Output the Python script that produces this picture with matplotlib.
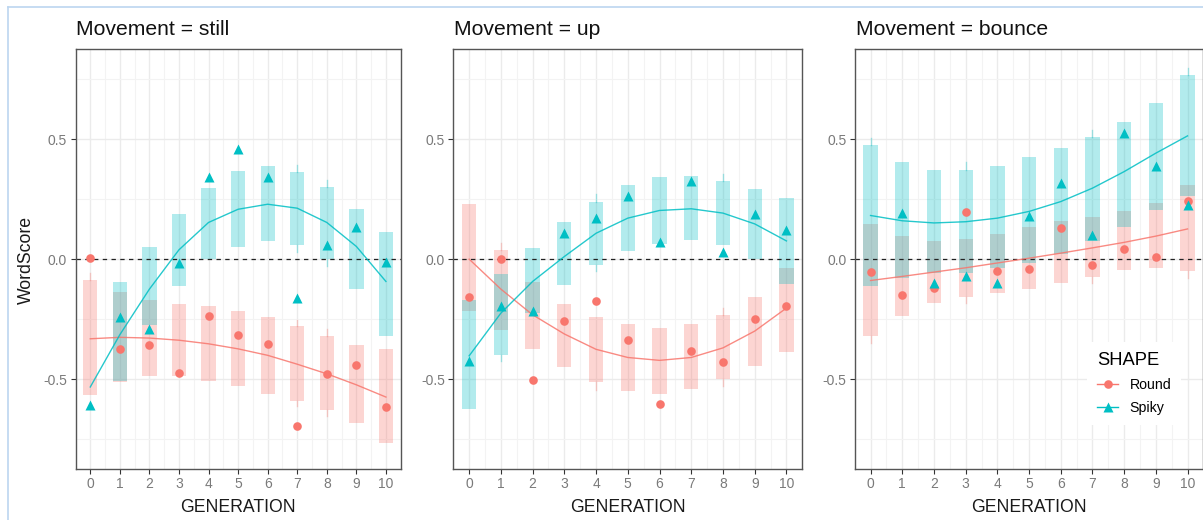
import numpy as np
import matplotlib
matplotlib.use("Agg")
import matplotlib.pyplot as plt
from matplotlib.lines import Line2D

nan = np.nan
generation = list(range(11))
panels = ["still", "up", "bounce"]
shapes = ["Round", "Spiky"]

# ---- Movement = still ----
still_round_pt = [0.006, -0.374, -0.357, -0.475, -0.239, -0.318, -0.353, -0.694, -0.479, -0.440, -0.617]
still_round_lo = [-0.568, -0.514, -0.489, -0.489, -0.506, -0.531, -0.561, -0.590, -0.628, -0.683, -0.767]
still_round_hi = [-0.089, -0.139, -0.169, -0.186, -0.194, -0.215, -0.242, -0.279, -0.322, -0.357, -0.375]
still_round_fit = [-0.332, -0.326, -0.329, -0.338, -0.353, -0.374, -0.401, -0.438, -0.478, -0.524, -0.575]
still_round_wlo = [nan, nan, nan, nan, nan, nan, nan, -0.614, -0.656, nan, nan]
still_round_whi = [-0.057, nan, nan, nan, nan, nan, nan, -0.253, -0.290, nan, nan]
still_spiky_pt = [-0.607, -0.240, -0.290, -0.014, 0.344, 0.461, 0.344, -0.160, 0.057, 0.133, -0.010]
still_spiky_lo = [nan, -0.507, -0.274, -0.111, 0.000, 0.049, 0.074, 0.057, 0.000, -0.125, -0.319]
still_spiky_hi = [nan, -0.097, 0.050, 0.188, 0.297, 0.369, 0.390, 0.364, 0.301, 0.211, 0.114]
still_spiky_fit = [-0.533, -0.315, -0.125, 0.039, 0.153, 0.208, 0.229, 0.2125, 0.153, 0.053, -0.093]
still_spiky_wlo = [nan, nan, nan, nan, nan, nan, nan, 0.028, -0.030, nan, nan]
still_spiky_whi = [nan, nan, nan, nan, nan, nan, nan, 0.393, 0.330, nan, nan]

# ---- Movement = up ----
up_round_pt = [-0.157, 0.000, -0.504, -0.256, -0.175, -0.339, -0.606, -0.381, -0.429, -0.250, -0.194]
up_round_lo = [-0.218, -0.294, -0.375, -0.450, -0.514, -0.551, -0.561, -0.543, -0.500, -0.447, -0.3875]
up_round_hi = [0.229, 0.039, -0.096, -0.186, -0.242, -0.272, -0.285, -0.272, -0.233, -0.157, -0.035]
up_round_fit = [0.000, -0.125, -0.232, -0.312, -0.376, -0.410, -0.422, -0.410, -0.370, -0.300, -0.204]
up_round_wlo = [nan, nan, nan, nan, -0.544, nan, nan, nan, -0.530, nan, nan]
up_round_whi = [nan, 0.067, nan, nan, nan, nan, nan, nan, -0.204, nan, nan]
up_spiky_pt = [-0.424, -0.194, -0.218, 0.111, 0.171, 0.264, 0.071, 0.326, 0.031, 0.189, 0.122]
up_spiky_lo = [-0.625, -0.401, -0.225, -0.107, -0.024, 0.032, 0.064, 0.078, 0.061, 0.000, -0.104]
up_spiky_hi = [-0.172, -0.0625, 0.046, 0.153, 0.240, 0.310, 0.344, 0.347, 0.326, 0.292, 0.253]
up_spiky_fit = [-0.403, -0.225, -0.093, 0.011, 0.108, 0.171, 0.203, 0.210, 0.192, 0.147, 0.076]
up_spiky_wlo = [nan, -0.426, nan, nan, -0.051, nan, nan, nan, nan, nan, nan]
up_spiky_whi = [nan, nan, nan, nan, 0.271, nan, nan, nan, 0.356, nan, nan]

# ---- Movement = bounce ----
bounce_round_pt = [-0.054, -0.149, -0.121, 0.197, -0.051, -0.040, 0.129, -0.024, 0.042, 0.007, 0.244]
bounce_round_lo = [-0.319, -0.239, -0.183, -0.156, -0.142, -0.125, -0.100, -0.075, -0.044, -0.0375, -0.051]
bounce_round_hi = [0.147, 0.097, 0.076, 0.083, 0.106, 0.132, 0.157, 0.174, 0.199, 0.236, 0.310]
bounce_round_fit = [-0.089, -0.072, -0.054, -0.036, -0.016, 0.004, 0.025, 0.047, 0.070, 0.096, 0.126]
bounce_round_wlo = [-0.350, nan, nan, -0.183, nan, nan, nan, -0.100, nan, nan, -0.079]
bounce_round_whi = [nan] * 11
bounce_spiky_pt = [nan, 0.194, -0.100, -0.072, -0.100, 0.182, 0.319, 0.099, 0.528, 0.389, 0.226]
bounce_spiky_lo = [-0.110, -0.079, -0.058, -0.056, -0.0375, -0.017, 0.022, 0.074, 0.136, 0.203, 0.264]
bounce_spiky_hi = [0.478, 0.406, 0.372, 0.372, 0.389, 0.424, 0.4625, 0.508, 0.572, 0.653, 0.767]
bounce_spiky_fit = [0.182, 0.160, 0.151, 0.156, 0.171, 0.199, 0.240, 0.296, 0.365, 0.442, 0.514]
bounce_spiky_wlo = [nan] * 11
bounce_spiky_whi = [0.507, nan, nan, 0.403, nan, nan, nan, 0.539, nan, nan, 0.796]

data = {
    "still": {
        "Round": (still_round_pt, still_round_lo, still_round_hi, still_round_fit, still_round_wlo, still_round_whi),
        "Spiky": (still_spiky_pt, still_spiky_lo, still_spiky_hi, still_spiky_fit, still_spiky_wlo, still_spiky_whi),
    },
    "up": {
        "Round": (up_round_pt, up_round_lo, up_round_hi, up_round_fit, up_round_wlo, up_round_whi),
        "Spiky": (up_spiky_pt, up_spiky_lo, up_spiky_hi, up_spiky_fit, up_spiky_wlo, up_spiky_whi),
    },
    "bounce": {
        "Round": (bounce_round_pt, bounce_round_lo, bounce_round_hi, bounce_round_fit, bounce_round_wlo, bounce_round_whi),
        "Spiky": (bounce_spiky_pt, bounce_spiky_lo, bounce_spiky_hi, bounce_spiky_fit, bounce_spiky_wlo, bounce_spiky_whi),
    },
}

colors = {"Round": "#F8766D", "Spiky": "#00BFC4"}
markers = {"Round": "o", "Spiky": "^"}
msizes = {"Round": 6.2, "Spiky": 7.6}

plt.rcParams['font.family'] = ['Liberation Sans', 'DejaVu Sans']

W, H = 1203, 520
fig = plt.figure(figsize=(W / 100, H / 100), dpi=100)

# outer light frame
fig.add_artist(Line2D([7.5 / W, 7.5 / W], [0, 1 - 7 / H], color="#bcd6f0", lw=1.2, transform=fig.transFigure))
fig.add_artist(Line2D([7.5 / W, 1], [1 - 7 / H, 1 - 7 / H], color="#bcd6f0", lw=1.2, transform=fig.transFigure))

# axes pixel boxes (left, right)
boxes = [(75.5, 400.7), (453.3, 802.3), (854.7, 1203.4)]
top_px, bot_px = 49.3, 469.0
bar_px = 14.3

axes = []
for (l, r), pname in zip(boxes, panels):
    ax = fig.add_axes([l / W, 1 - bot_px / H, (r - l) / W, (bot_px - top_px) / H])
    axes.append(ax)
    ax.set_xlim(-0.5, 10.5)
    ax.set_ylim(-0.875, 0.875)
    ax.set_xticks(generation)
    ax.set_xticks(np.arange(-0.5, 10.6, 1), minor=True)
    ax.set_yticks([-0.5, 0.0, 0.5])
    ax.set_yticklabels(["-0.5", "0.0", "0.5"])
    ax.set_yticks([-0.75, -0.25, 0.25, 0.75], minor=True)
    ax.grid(which="major", color="#ebebeb", lw=1.0, zorder=0)
    ax.grid(which="minor", color="#f3f3f3", lw=0.8, zorder=0)
    ax.set_axisbelow(True)
    ax.tick_params(which="minor", length=0)
    ax.tick_params(which="major", length=3.5, width=0.8, color="#333333",
                   labelcolor="#7a7a7a", labelsize=10, pad=2.5)
    for s in ax.spines.values():
        s.set_color("#555555")
        s.set_linewidth(1.0)
    unit_px = (r - l) / 11.0
    bw = bar_px / unit_px

    ax.axhline(0, color="#222222", lw=0.9, ls=(0, (3.5, 3.5)), zorder=2)

    for shp in shapes:
        pt, lo, hi, fit, wlo, whi = data[pname][shp]
        c = colors[shp]
        lo_a = np.array(lo, float)
        hi_a = np.array(hi, float)
        ax.bar(generation, hi_a - lo_a, bottom=lo_a, width=bw, color=c, alpha=0.3, lw=0, zorder=1)
        for g, a, b, wl, wh in zip(generation, lo, hi, wlo, whi):
            if not np.isnan(wh):
                ax.plot([g, g], [b, wh], color=c, alpha=0.35, lw=1.0, zorder=1.5)
            if not np.isnan(wl):
                ax.plot([g, g], [wl, a], color=c, alpha=0.35, lw=1.0, zorder=1.5)
    for shp in shapes:
        pt, lo, hi, fit, wlo, whi = data[pname][shp]
        c = colors[shp]
        ax.plot(generation, fit, color=c, lw=1.0, alpha=0.85, zorder=3)
        ax.plot(generation, pt, ls="none", marker=markers[shp], ms=msizes[shp],
                color=c, mec="none", zorder=4)

    fig.text((l + 1) / W, 1 - 35 / H, f"Movement = {pname}", fontsize=15.2,
             color="#111111", ha="left", va="baseline")
    fig.text((l + r) / 2 / W, 1 - 507 / H, "GENERATION", fontsize=12.7,
             color="#1a1a1a", ha="center", va="center")

fig.text(26 / W, 1 - 260 / H, "WordScore", fontsize=12.7, color="#1a1a1a",
         rotation=90, ha="center", va="center")

handles = [Line2D([0], [0], color=colors[s], marker=markers[s], ms=msizes[s], mec="none", lw=1.0)
           for s in shapes]
leg = axes[2].legend(handles, shapes, title="SHAPE", loc="upper left",
                     bbox_to_anchor=(1080 / W, 1 - 335 / H), bbox_transform=fig.transFigure,
                     frameon=True, facecolor="white", edgecolor="none", framealpha=1,
                     fontsize=10.2, title_fontsize=13.2, handlelength=1.5, handletextpad=0.8,
                     labelspacing=0.65, borderpad=0.7, alignment="left")
leg.set_zorder(10)

fig.savefig("out.png", dpi=100)
